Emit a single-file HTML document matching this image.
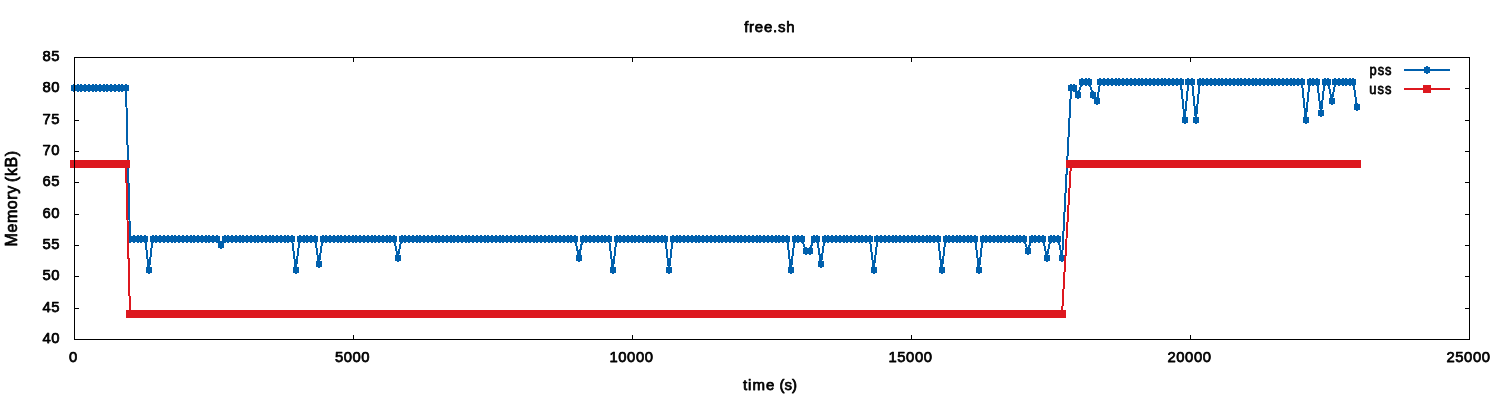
<!DOCTYPE html>
<html lang="en"><head><meta charset="utf-8"><title>free.sh</title>
<style>
html,body{margin:0;padding:0;background:#fff;}
body{width:1500px;height:400px;overflow:hidden;}
svg{display:block;}
text{font-family:"Liberation Sans",sans-serif;font-size:14.8px;fill:#000;letter-spacing:0.58px;stroke:#000;stroke-width:0.75px;stroke-linejoin:round;}
.ax{stroke:#000;stroke-width:1;fill:none;shape-rendering:crispEdges;}
.bl{stroke:#0060ad;stroke-width:2;fill:none;shape-rendering:crispEdges;stroke-linejoin:miter;}
.rl{stroke:#dd181f;stroke-width:2;fill:none;shape-rendering:crispEdges;stroke-linejoin:miter;}
.bm{fill:#0060ad;shape-rendering:crispEdges;}
.rm{fill:#dd181f;shape-rendering:crispEdges;}
</style></head><body>
<svg width="1500" height="400" viewBox="0 0 1500 400">
<rect x="0" y="0" width="1500" height="400" fill="#fff"/>
<text x="60" y="343.35" text-anchor="end">40</text>
<text x="60" y="312.35" text-anchor="end">45</text>
<text x="60" y="280.35" text-anchor="end">50</text>
<text x="60" y="249.35" text-anchor="end">55</text>
<text x="60" y="218.35" text-anchor="end">60</text>
<text x="60" y="186.35" text-anchor="end">65</text>
<text x="60" y="155.35" text-anchor="end">70</text>
<text x="60" y="124.35" text-anchor="end">75</text>
<text x="60" y="92.35" text-anchor="end">80</text>
<text x="60" y="61.35" text-anchor="end">85</text>
<text x="73.5" y="362.3" text-anchor="middle">0</text>
<text x="352.5" y="362.3" text-anchor="middle">5000</text>
<text x="631.5" y="362.3" text-anchor="middle">10000</text>
<text x="910.5" y="362.3" text-anchor="middle">15000</text>
<text x="1189.5" y="362.3" text-anchor="middle">20000</text>
<text x="1468.5" y="362.3" text-anchor="middle">25000</text>
<text x="769.7" y="32.25" text-anchor="middle" style="font-size:15px;letter-spacing:0.75px">free.sh</text>
<text x="769.9" y="390.3" text-anchor="middle" style="font-size:15px;letter-spacing:0"><tspan style="letter-spacing:1px">time</tspan> <tspan style="letter-spacing:0">(s)</tspan></text>
<text transform="translate(17.4 198.4) rotate(-90)" text-anchor="middle" style="font-size:16px;letter-spacing:0.55px;word-spacing:-1.6px">Memory (kB)</text>
<text transform="translate(1369.5 75) scale(0.87 1)" style="letter-spacing:1.15px">pss</text>
<text transform="translate(1369.3 94) scale(0.87 1)" style="letter-spacing:1.15px">uss</text>
<path fill="#000" shape-rendering="crispEdges" d="M74 339h5v1h-5zM1465 339h5v1h-5zM74 308h5v1h-5zM1465 308h5v1h-5zM74 276h5v1h-5zM1465 276h5v1h-5zM74 245h5v1h-5zM1465 245h5v1h-5zM74 214h5v1h-5zM1465 214h5v1h-5zM74 182h5v1h-5zM1465 182h5v1h-5zM74 151h5v1h-5zM1465 151h5v1h-5zM74 120h5v1h-5zM1465 120h5v1h-5zM74 88h5v1h-5zM1465 88h5v1h-5zM74 57h5v1h-5zM1465 57h5v1h-5zM74 335h1v5h-1zM74 57h1v5h-1zM353 335h1v5h-1zM353 57h1v5h-1zM632 335h1v5h-1zM632 57h1v5h-1zM911 335h1v5h-1zM911 57h1v5h-1zM1190 335h1v5h-1zM1190 57h1v5h-1zM1469 335h1v5h-1zM1469 57h1v5h-1z"/>
<polyline class="bl" points="74,88.33 77.71,88.33 81.43,88.33 85.14,88.33 88.86,88.33 92.57,88.33 96.29,88.33 100,88.33 103.71,88.33 107.43,88.33 111.14,88.33 114.86,88.33 118.57,88.33 122.29,88.33 126,88.33 130,238.73 133.78,238.73 137.56,238.73 141.34,238.73 145.12,238.73 148.9,270.07 152.68,238.73 156.47,238.73 160.25,238.73 164.04,238.73 167.82,238.73 171.61,238.73 175.39,238.73 179.17,238.73 182.96,238.73 186.74,238.73 190.53,238.73 194.31,238.73 198.09,238.73 201.88,238.73 205.66,238.73 209.45,238.73 213.23,238.73 217.02,238.73 220.8,245 224.55,238.73 228.3,238.73 232.05,238.73 235.8,238.73 239.55,238.73 243.3,238.73 247.05,238.73 250.8,238.73 254.55,238.73 258.3,238.73 262.05,238.73 265.8,238.73 269.55,238.73 273.3,238.73 277.05,238.73 280.8,238.73 284.55,238.73 288.3,238.73 292.05,238.73 295.8,270.07 299.65,238.73 303.5,238.73 307.35,238.73 311.2,238.73 315.05,238.73 318.9,263.8 322.66,238.73 326.41,238.73 330.17,238.73 333.93,238.73 337.69,238.73 341.44,238.73 345.2,238.73 348.96,238.73 352.71,238.73 356.47,238.73 360.23,238.73 363.99,238.73 367.74,238.73 371.5,238.73 375.26,238.73 379.01,238.73 382.77,238.73 386.53,238.73 390.29,238.73 394.04,238.73 397.8,257.53 401.57,238.73 405.35,238.73 409.12,238.73 412.89,238.73 416.66,238.73 420.44,238.73 424.21,238.73 427.98,238.73 431.76,238.73 435.53,238.73 439.3,238.73 443.07,238.73 446.85,238.73 450.62,238.73 454.39,238.73 458.17,238.73 461.94,238.73 465.71,238.73 469.49,238.73 473.26,238.73 477.03,238.73 480.8,238.73 484.58,238.73 488.35,238.73 492.12,238.73 495.9,238.73 499.67,238.73 503.44,238.73 507.21,238.73 510.99,238.73 514.76,238.73 518.53,238.73 522.31,238.73 526.08,238.73 529.85,238.73 533.62,238.73 537.4,238.73 541.17,238.73 544.94,238.73 548.72,238.73 552.49,238.73 556.26,238.73 560.04,238.73 563.81,238.73 567.58,238.73 571.35,238.73 575.13,238.73 578.9,257.53 582.67,238.73 586.43,238.73 590.2,238.73 593.97,238.73 597.73,238.73 601.5,238.73 605.27,238.73 609.03,238.73 612.8,270.07 616.55,238.73 620.29,238.73 624.04,238.73 627.79,238.73 631.53,238.73 635.28,238.73 639.03,238.73 642.77,238.73 646.52,238.73 650.27,238.73 654.01,238.73 657.76,238.73 661.51,238.73 665.25,238.73 669,270.07 672.81,238.73 676.62,238.73 680.43,238.73 684.24,238.73 688.05,238.73 691.86,238.73 695.67,238.73 699.48,238.73 703.28,238.73 707.09,238.73 710.9,238.73 714.71,238.73 718.52,238.73 722.33,238.73 726.14,238.73 729.95,238.73 733.76,238.73 737.57,238.73 741.38,238.73 745.19,238.73 749,238.73 752.81,238.73 756.62,238.73 760.42,238.73 764.23,238.73 768.04,238.73 771.85,238.73 775.66,238.73 779.47,238.73 783.28,238.73 787.09,238.73 790.9,270.07 794.6,238.73 798.3,238.73 802,238.73 805.7,251.27 809.8,251.27 813.5,238.73 817.2,238.73 820.9,263.8 824.67,238.73 828.44,238.73 832.21,238.73 835.99,238.73 839.76,238.73 843.53,238.73 847.3,238.73 851.07,238.73 854.84,238.73 858.61,238.73 862.39,238.73 866.16,238.73 869.93,238.73 873.7,270.07 877.48,238.73 881.27,238.73 885.05,238.73 888.83,238.73 892.62,238.73 896.4,238.73 900.18,238.73 903.97,238.73 907.75,238.73 911.53,238.73 915.32,238.73 919.1,238.73 922.88,238.73 926.67,238.73 930.45,238.73 934.23,238.73 938.02,238.73 941.8,270.07 945.51,238.73 949.22,238.73 952.93,238.73 956.64,238.73 960.35,238.73 964.06,238.73 967.77,238.73 971.48,238.73 975.19,238.73 978.9,270.07 982.66,238.73 986.42,238.73 990.18,238.73 993.95,238.73 997.71,238.73 1001.47,238.73 1005.23,238.73 1008.99,238.73 1012.75,238.73 1016.52,238.73 1020.28,238.73 1024.04,238.73 1027.8,251.27 1031.6,238.73 1035.4,238.73 1039.2,238.73 1043,238.73 1046.8,257.53 1050.62,238.73 1054.45,238.73 1058.27,238.73 1062.1,257.53 1071.1,88.33 1074,88.33 1078,94.6 1082,82.07 1085.7,82.07 1089,82.07 1093,94.6 1097,100.87 1100.2,82.07 1104.04,82.07 1107.87,82.07 1111.71,82.07 1115.55,82.07 1119.38,82.07 1123.22,82.07 1127.05,82.07 1130.89,82.07 1134.73,82.07 1138.56,82.07 1142.4,82.07 1146.24,82.07 1150.07,82.07 1153.91,82.07 1157.75,82.07 1161.58,82.07 1165.42,82.07 1169.25,82.07 1173.09,82.07 1176.93,82.07 1180.76,82.07 1184.6,119.67 1188.4,82.07 1192.1,82.07 1195.9,119.67 1199.69,82.07 1203.47,82.07 1207.26,82.07 1211.04,82.07 1214.83,82.07 1218.62,82.07 1222.4,82.07 1226.19,82.07 1229.98,82.07 1233.76,82.07 1237.55,82.07 1241.33,82.07 1245.12,82.07 1248.91,82.07 1252.69,82.07 1256.48,82.07 1260.27,82.07 1264.05,82.07 1267.84,82.07 1271.62,82.07 1275.41,82.07 1279.2,82.07 1282.98,82.07 1286.77,82.07 1290.56,82.07 1294.34,82.07 1298.13,82.07 1301.91,82.07 1305.7,119.67 1309.53,82.07 1313.35,82.07 1317.17,82.07 1321,113.4 1324.6,82.07 1328.2,82.07 1331.8,100.87 1335.38,82.07 1338.97,82.07 1342.55,82.07 1346.13,82.07 1349.72,82.07 1353.3,82.07 1357,107.13"/>
<path class="bm" d="M73 84h2v1h2v6h-2v1h-2v-1h-2v-6h2zM77 84h2v1h2v6h-2v1h-2v-1h-2v-6h2zM80 84h2v1h2v6h-2v1h-2v-1h-2v-6h2zM84 84h2v1h2v6h-2v1h-2v-1h-2v-6h2zM88 84h2v1h2v6h-2v1h-2v-1h-2v-6h2zM92 84h2v1h2v6h-2v1h-2v-1h-2v-6h2zM95 84h2v1h2v6h-2v1h-2v-1h-2v-6h2zM99 84h2v1h2v6h-2v1h-2v-1h-2v-6h2zM103 84h2v1h2v6h-2v1h-2v-1h-2v-6h2zM106 84h2v1h2v6h-2v1h-2v-1h-2v-6h2zM110 84h2v1h2v6h-2v1h-2v-1h-2v-6h2zM114 84h2v1h2v6h-2v1h-2v-1h-2v-6h2zM118 84h2v1h2v6h-2v1h-2v-1h-2v-6h2zM121 84h2v1h2v6h-2v1h-2v-1h-2v-6h2zM125 84h2v1h2v6h-2v1h-2v-1h-2v-6h2zM129 235h2v1h2v6h-2v1h-2v-1h-2v-6h2zM133 235h2v1h2v6h-2v1h-2v-1h-2v-6h2zM137 235h2v1h2v6h-2v1h-2v-1h-2v-6h2zM140 235h2v1h2v6h-2v1h-2v-1h-2v-6h2zM144 235h2v1h2v6h-2v1h-2v-1h-2v-6h2zM148 266h2v1h2v6h-2v1h-2v-1h-2v-6h2zM152 235h2v1h2v6h-2v1h-2v-1h-2v-6h2zM155 235h2v1h2v6h-2v1h-2v-1h-2v-6h2zM159 235h2v1h2v6h-2v1h-2v-1h-2v-6h2zM163 235h2v1h2v6h-2v1h-2v-1h-2v-6h2zM167 235h2v1h2v6h-2v1h-2v-1h-2v-6h2zM171 235h2v1h2v6h-2v1h-2v-1h-2v-6h2zM174 235h2v1h2v6h-2v1h-2v-1h-2v-6h2zM178 235h2v1h2v6h-2v1h-2v-1h-2v-6h2zM182 235h2v1h2v6h-2v1h-2v-1h-2v-6h2zM186 235h2v1h2v6h-2v1h-2v-1h-2v-6h2zM190 235h2v1h2v6h-2v1h-2v-1h-2v-6h2zM193 235h2v1h2v6h-2v1h-2v-1h-2v-6h2zM197 235h2v1h2v6h-2v1h-2v-1h-2v-6h2zM201 235h2v1h2v6h-2v1h-2v-1h-2v-6h2zM205 235h2v1h2v6h-2v1h-2v-1h-2v-6h2zM208 235h2v1h2v6h-2v1h-2v-1h-2v-6h2zM212 235h2v1h2v6h-2v1h-2v-1h-2v-6h2zM216 235h2v1h2v6h-2v1h-2v-1h-2v-6h2zM220 241h2v1h2v6h-2v1h-2v-1h-2v-6h2zM224 235h2v1h2v6h-2v1h-2v-1h-2v-6h2zM227 235h2v1h2v6h-2v1h-2v-1h-2v-6h2zM231 235h2v1h2v6h-2v1h-2v-1h-2v-6h2zM235 235h2v1h2v6h-2v1h-2v-1h-2v-6h2zM239 235h2v1h2v6h-2v1h-2v-1h-2v-6h2zM242 235h2v1h2v6h-2v1h-2v-1h-2v-6h2zM246 235h2v1h2v6h-2v1h-2v-1h-2v-6h2zM250 235h2v1h2v6h-2v1h-2v-1h-2v-6h2zM254 235h2v1h2v6h-2v1h-2v-1h-2v-6h2zM257 235h2v1h2v6h-2v1h-2v-1h-2v-6h2zM261 235h2v1h2v6h-2v1h-2v-1h-2v-6h2zM265 235h2v1h2v6h-2v1h-2v-1h-2v-6h2zM269 235h2v1h2v6h-2v1h-2v-1h-2v-6h2zM272 235h2v1h2v6h-2v1h-2v-1h-2v-6h2zM276 235h2v1h2v6h-2v1h-2v-1h-2v-6h2zM280 235h2v1h2v6h-2v1h-2v-1h-2v-6h2zM284 235h2v1h2v6h-2v1h-2v-1h-2v-6h2zM287 235h2v1h2v6h-2v1h-2v-1h-2v-6h2zM291 235h2v1h2v6h-2v1h-2v-1h-2v-6h2zM295 266h2v1h2v6h-2v1h-2v-1h-2v-6h2zM299 235h2v1h2v6h-2v1h-2v-1h-2v-6h2zM303 235h2v1h2v6h-2v1h-2v-1h-2v-6h2zM306 235h2v1h2v6h-2v1h-2v-1h-2v-6h2zM310 235h2v1h2v6h-2v1h-2v-1h-2v-6h2zM314 235h2v1h2v6h-2v1h-2v-1h-2v-6h2zM318 260h2v1h2v6h-2v1h-2v-1h-2v-6h2zM322 235h2v1h2v6h-2v1h-2v-1h-2v-6h2zM325 235h2v1h2v6h-2v1h-2v-1h-2v-6h2zM329 235h2v1h2v6h-2v1h-2v-1h-2v-6h2zM333 235h2v1h2v6h-2v1h-2v-1h-2v-6h2zM337 235h2v1h2v6h-2v1h-2v-1h-2v-6h2zM340 235h2v1h2v6h-2v1h-2v-1h-2v-6h2zM344 235h2v1h2v6h-2v1h-2v-1h-2v-6h2zM348 235h2v1h2v6h-2v1h-2v-1h-2v-6h2zM352 235h2v1h2v6h-2v1h-2v-1h-2v-6h2zM355 235h2v1h2v6h-2v1h-2v-1h-2v-6h2zM359 235h2v1h2v6h-2v1h-2v-1h-2v-6h2zM363 235h2v1h2v6h-2v1h-2v-1h-2v-6h2zM367 235h2v1h2v6h-2v1h-2v-1h-2v-6h2zM371 235h2v1h2v6h-2v1h-2v-1h-2v-6h2zM374 235h2v1h2v6h-2v1h-2v-1h-2v-6h2zM378 235h2v1h2v6h-2v1h-2v-1h-2v-6h2zM382 235h2v1h2v6h-2v1h-2v-1h-2v-6h2zM386 235h2v1h2v6h-2v1h-2v-1h-2v-6h2zM389 235h2v1h2v6h-2v1h-2v-1h-2v-6h2zM393 235h2v1h2v6h-2v1h-2v-1h-2v-6h2zM397 254h2v1h2v6h-2v1h-2v-1h-2v-6h2zM401 235h2v1h2v6h-2v1h-2v-1h-2v-6h2zM404 235h2v1h2v6h-2v1h-2v-1h-2v-6h2zM408 235h2v1h2v6h-2v1h-2v-1h-2v-6h2zM412 235h2v1h2v6h-2v1h-2v-1h-2v-6h2zM416 235h2v1h2v6h-2v1h-2v-1h-2v-6h2zM419 235h2v1h2v6h-2v1h-2v-1h-2v-6h2zM423 235h2v1h2v6h-2v1h-2v-1h-2v-6h2zM427 235h2v1h2v6h-2v1h-2v-1h-2v-6h2zM431 235h2v1h2v6h-2v1h-2v-1h-2v-6h2zM435 235h2v1h2v6h-2v1h-2v-1h-2v-6h2zM438 235h2v1h2v6h-2v1h-2v-1h-2v-6h2zM442 235h2v1h2v6h-2v1h-2v-1h-2v-6h2zM446 235h2v1h2v6h-2v1h-2v-1h-2v-6h2zM450 235h2v1h2v6h-2v1h-2v-1h-2v-6h2zM453 235h2v1h2v6h-2v1h-2v-1h-2v-6h2zM457 235h2v1h2v6h-2v1h-2v-1h-2v-6h2zM461 235h2v1h2v6h-2v1h-2v-1h-2v-6h2zM465 235h2v1h2v6h-2v1h-2v-1h-2v-6h2zM468 235h2v1h2v6h-2v1h-2v-1h-2v-6h2zM472 235h2v1h2v6h-2v1h-2v-1h-2v-6h2zM476 235h2v1h2v6h-2v1h-2v-1h-2v-6h2zM480 235h2v1h2v6h-2v1h-2v-1h-2v-6h2zM484 235h2v1h2v6h-2v1h-2v-1h-2v-6h2zM487 235h2v1h2v6h-2v1h-2v-1h-2v-6h2zM491 235h2v1h2v6h-2v1h-2v-1h-2v-6h2zM495 235h2v1h2v6h-2v1h-2v-1h-2v-6h2zM499 235h2v1h2v6h-2v1h-2v-1h-2v-6h2zM502 235h2v1h2v6h-2v1h-2v-1h-2v-6h2zM506 235h2v1h2v6h-2v1h-2v-1h-2v-6h2zM510 235h2v1h2v6h-2v1h-2v-1h-2v-6h2zM514 235h2v1h2v6h-2v1h-2v-1h-2v-6h2zM518 235h2v1h2v6h-2v1h-2v-1h-2v-6h2zM521 235h2v1h2v6h-2v1h-2v-1h-2v-6h2zM525 235h2v1h2v6h-2v1h-2v-1h-2v-6h2zM529 235h2v1h2v6h-2v1h-2v-1h-2v-6h2zM533 235h2v1h2v6h-2v1h-2v-1h-2v-6h2zM536 235h2v1h2v6h-2v1h-2v-1h-2v-6h2zM540 235h2v1h2v6h-2v1h-2v-1h-2v-6h2zM544 235h2v1h2v6h-2v1h-2v-1h-2v-6h2zM548 235h2v1h2v6h-2v1h-2v-1h-2v-6h2zM551 235h2v1h2v6h-2v1h-2v-1h-2v-6h2zM555 235h2v1h2v6h-2v1h-2v-1h-2v-6h2zM559 235h2v1h2v6h-2v1h-2v-1h-2v-6h2zM563 235h2v1h2v6h-2v1h-2v-1h-2v-6h2zM567 235h2v1h2v6h-2v1h-2v-1h-2v-6h2zM570 235h2v1h2v6h-2v1h-2v-1h-2v-6h2zM574 235h2v1h2v6h-2v1h-2v-1h-2v-6h2zM578 254h2v1h2v6h-2v1h-2v-1h-2v-6h2zM582 235h2v1h2v6h-2v1h-2v-1h-2v-6h2zM585 235h2v1h2v6h-2v1h-2v-1h-2v-6h2zM589 235h2v1h2v6h-2v1h-2v-1h-2v-6h2zM593 235h2v1h2v6h-2v1h-2v-1h-2v-6h2zM597 235h2v1h2v6h-2v1h-2v-1h-2v-6h2zM601 235h2v1h2v6h-2v1h-2v-1h-2v-6h2zM604 235h2v1h2v6h-2v1h-2v-1h-2v-6h2zM608 235h2v1h2v6h-2v1h-2v-1h-2v-6h2zM612 266h2v1h2v6h-2v1h-2v-1h-2v-6h2zM616 235h2v1h2v6h-2v1h-2v-1h-2v-6h2zM619 235h2v1h2v6h-2v1h-2v-1h-2v-6h2zM623 235h2v1h2v6h-2v1h-2v-1h-2v-6h2zM627 235h2v1h2v6h-2v1h-2v-1h-2v-6h2zM631 235h2v1h2v6h-2v1h-2v-1h-2v-6h2zM634 235h2v1h2v6h-2v1h-2v-1h-2v-6h2zM638 235h2v1h2v6h-2v1h-2v-1h-2v-6h2zM642 235h2v1h2v6h-2v1h-2v-1h-2v-6h2zM646 235h2v1h2v6h-2v1h-2v-1h-2v-6h2zM649 235h2v1h2v6h-2v1h-2v-1h-2v-6h2zM653 235h2v1h2v6h-2v1h-2v-1h-2v-6h2zM657 235h2v1h2v6h-2v1h-2v-1h-2v-6h2zM661 235h2v1h2v6h-2v1h-2v-1h-2v-6h2zM664 235h2v1h2v6h-2v1h-2v-1h-2v-6h2zM668 266h2v1h2v6h-2v1h-2v-1h-2v-6h2zM672 235h2v1h2v6h-2v1h-2v-1h-2v-6h2zM676 235h2v1h2v6h-2v1h-2v-1h-2v-6h2zM679 235h2v1h2v6h-2v1h-2v-1h-2v-6h2zM683 235h2v1h2v6h-2v1h-2v-1h-2v-6h2zM687 235h2v1h2v6h-2v1h-2v-1h-2v-6h2zM691 235h2v1h2v6h-2v1h-2v-1h-2v-6h2zM695 235h2v1h2v6h-2v1h-2v-1h-2v-6h2zM698 235h2v1h2v6h-2v1h-2v-1h-2v-6h2zM702 235h2v1h2v6h-2v1h-2v-1h-2v-6h2zM706 235h2v1h2v6h-2v1h-2v-1h-2v-6h2zM710 235h2v1h2v6h-2v1h-2v-1h-2v-6h2zM714 235h2v1h2v6h-2v1h-2v-1h-2v-6h2zM718 235h2v1h2v6h-2v1h-2v-1h-2v-6h2zM721 235h2v1h2v6h-2v1h-2v-1h-2v-6h2zM725 235h2v1h2v6h-2v1h-2v-1h-2v-6h2zM729 235h2v1h2v6h-2v1h-2v-1h-2v-6h2zM733 235h2v1h2v6h-2v1h-2v-1h-2v-6h2zM737 235h2v1h2v6h-2v1h-2v-1h-2v-6h2zM740 235h2v1h2v6h-2v1h-2v-1h-2v-6h2zM744 235h2v1h2v6h-2v1h-2v-1h-2v-6h2zM748 235h2v1h2v6h-2v1h-2v-1h-2v-6h2zM752 235h2v1h2v6h-2v1h-2v-1h-2v-6h2zM756 235h2v1h2v6h-2v1h-2v-1h-2v-6h2zM759 235h2v1h2v6h-2v1h-2v-1h-2v-6h2zM763 235h2v1h2v6h-2v1h-2v-1h-2v-6h2zM767 235h2v1h2v6h-2v1h-2v-1h-2v-6h2zM771 235h2v1h2v6h-2v1h-2v-1h-2v-6h2zM775 235h2v1h2v6h-2v1h-2v-1h-2v-6h2zM778 235h2v1h2v6h-2v1h-2v-1h-2v-6h2zM782 235h2v1h2v6h-2v1h-2v-1h-2v-6h2zM786 235h2v1h2v6h-2v1h-2v-1h-2v-6h2zM790 266h2v1h2v6h-2v1h-2v-1h-2v-6h2zM794 235h2v1h2v6h-2v1h-2v-1h-2v-6h2zM797 235h2v1h2v6h-2v1h-2v-1h-2v-6h2zM801 235h2v1h2v6h-2v1h-2v-1h-2v-6h2zM805 247h2v1h2v6h-2v1h-2v-1h-2v-6h2zM809 247h2v1h2v6h-2v1h-2v-1h-2v-6h2zM813 235h2v1h2v6h-2v1h-2v-1h-2v-6h2zM816 235h2v1h2v6h-2v1h-2v-1h-2v-6h2zM820 260h2v1h2v6h-2v1h-2v-1h-2v-6h2zM824 235h2v1h2v6h-2v1h-2v-1h-2v-6h2zM827 235h2v1h2v6h-2v1h-2v-1h-2v-6h2zM831 235h2v1h2v6h-2v1h-2v-1h-2v-6h2zM835 235h2v1h2v6h-2v1h-2v-1h-2v-6h2zM839 235h2v1h2v6h-2v1h-2v-1h-2v-6h2zM843 235h2v1h2v6h-2v1h-2v-1h-2v-6h2zM846 235h2v1h2v6h-2v1h-2v-1h-2v-6h2zM850 235h2v1h2v6h-2v1h-2v-1h-2v-6h2zM854 235h2v1h2v6h-2v1h-2v-1h-2v-6h2zM858 235h2v1h2v6h-2v1h-2v-1h-2v-6h2zM861 235h2v1h2v6h-2v1h-2v-1h-2v-6h2zM865 235h2v1h2v6h-2v1h-2v-1h-2v-6h2zM869 235h2v1h2v6h-2v1h-2v-1h-2v-6h2zM873 266h2v1h2v6h-2v1h-2v-1h-2v-6h2zM876 235h2v1h2v6h-2v1h-2v-1h-2v-6h2zM880 235h2v1h2v6h-2v1h-2v-1h-2v-6h2zM884 235h2v1h2v6h-2v1h-2v-1h-2v-6h2zM888 235h2v1h2v6h-2v1h-2v-1h-2v-6h2zM892 235h2v1h2v6h-2v1h-2v-1h-2v-6h2zM895 235h2v1h2v6h-2v1h-2v-1h-2v-6h2zM899 235h2v1h2v6h-2v1h-2v-1h-2v-6h2zM903 235h2v1h2v6h-2v1h-2v-1h-2v-6h2zM907 235h2v1h2v6h-2v1h-2v-1h-2v-6h2zM911 235h2v1h2v6h-2v1h-2v-1h-2v-6h2zM914 235h2v1h2v6h-2v1h-2v-1h-2v-6h2zM918 235h2v1h2v6h-2v1h-2v-1h-2v-6h2zM922 235h2v1h2v6h-2v1h-2v-1h-2v-6h2zM926 235h2v1h2v6h-2v1h-2v-1h-2v-6h2zM929 235h2v1h2v6h-2v1h-2v-1h-2v-6h2zM933 235h2v1h2v6h-2v1h-2v-1h-2v-6h2zM937 235h2v1h2v6h-2v1h-2v-1h-2v-6h2zM941 266h2v1h2v6h-2v1h-2v-1h-2v-6h2zM945 235h2v1h2v6h-2v1h-2v-1h-2v-6h2zM948 235h2v1h2v6h-2v1h-2v-1h-2v-6h2zM952 235h2v1h2v6h-2v1h-2v-1h-2v-6h2zM956 235h2v1h2v6h-2v1h-2v-1h-2v-6h2zM959 235h2v1h2v6h-2v1h-2v-1h-2v-6h2zM963 235h2v1h2v6h-2v1h-2v-1h-2v-6h2zM967 235h2v1h2v6h-2v1h-2v-1h-2v-6h2zM970 235h2v1h2v6h-2v1h-2v-1h-2v-6h2zM974 235h2v1h2v6h-2v1h-2v-1h-2v-6h2zM978 266h2v1h2v6h-2v1h-2v-1h-2v-6h2zM982 235h2v1h2v6h-2v1h-2v-1h-2v-6h2zM985 235h2v1h2v6h-2v1h-2v-1h-2v-6h2zM989 235h2v1h2v6h-2v1h-2v-1h-2v-6h2zM993 235h2v1h2v6h-2v1h-2v-1h-2v-6h2zM997 235h2v1h2v6h-2v1h-2v-1h-2v-6h2zM1000 235h2v1h2v6h-2v1h-2v-1h-2v-6h2zM1004 235h2v1h2v6h-2v1h-2v-1h-2v-6h2zM1008 235h2v1h2v6h-2v1h-2v-1h-2v-6h2zM1012 235h2v1h2v6h-2v1h-2v-1h-2v-6h2zM1016 235h2v1h2v6h-2v1h-2v-1h-2v-6h2zM1019 235h2v1h2v6h-2v1h-2v-1h-2v-6h2zM1023 235h2v1h2v6h-2v1h-2v-1h-2v-6h2zM1027 247h2v1h2v6h-2v1h-2v-1h-2v-6h2zM1031 235h2v1h2v6h-2v1h-2v-1h-2v-6h2zM1034 235h2v1h2v6h-2v1h-2v-1h-2v-6h2zM1038 235h2v1h2v6h-2v1h-2v-1h-2v-6h2zM1042 235h2v1h2v6h-2v1h-2v-1h-2v-6h2zM1046 254h2v1h2v6h-2v1h-2v-1h-2v-6h2zM1050 235h2v1h2v6h-2v1h-2v-1h-2v-6h2zM1053 235h2v1h2v6h-2v1h-2v-1h-2v-6h2zM1057 235h2v1h2v6h-2v1h-2v-1h-2v-6h2zM1061 254h2v1h2v6h-2v1h-2v-1h-2v-6h2zM1070 84h2v1h2v6h-2v1h-2v-1h-2v-6h2zM1073 84h2v1h2v6h-2v1h-2v-1h-2v-6h2zM1077 91h2v1h2v6h-2v1h-2v-1h-2v-6h2zM1081 78h2v1h2v6h-2v1h-2v-1h-2v-6h2zM1085 78h2v1h2v6h-2v1h-2v-1h-2v-6h2zM1088 78h2v1h2v6h-2v1h-2v-1h-2v-6h2zM1092 91h2v1h2v6h-2v1h-2v-1h-2v-6h2zM1096 97h2v1h2v6h-2v1h-2v-1h-2v-6h2zM1099 78h2v1h2v6h-2v1h-2v-1h-2v-6h2zM1103 78h2v1h2v6h-2v1h-2v-1h-2v-6h2zM1107 78h2v1h2v6h-2v1h-2v-1h-2v-6h2zM1111 78h2v1h2v6h-2v1h-2v-1h-2v-6h2zM1115 78h2v1h2v6h-2v1h-2v-1h-2v-6h2zM1118 78h2v1h2v6h-2v1h-2v-1h-2v-6h2zM1122 78h2v1h2v6h-2v1h-2v-1h-2v-6h2zM1126 78h2v1h2v6h-2v1h-2v-1h-2v-6h2zM1130 78h2v1h2v6h-2v1h-2v-1h-2v-6h2zM1134 78h2v1h2v6h-2v1h-2v-1h-2v-6h2zM1138 78h2v1h2v6h-2v1h-2v-1h-2v-6h2zM1141 78h2v1h2v6h-2v1h-2v-1h-2v-6h2zM1145 78h2v1h2v6h-2v1h-2v-1h-2v-6h2zM1149 78h2v1h2v6h-2v1h-2v-1h-2v-6h2zM1153 78h2v1h2v6h-2v1h-2v-1h-2v-6h2zM1157 78h2v1h2v6h-2v1h-2v-1h-2v-6h2zM1161 78h2v1h2v6h-2v1h-2v-1h-2v-6h2zM1164 78h2v1h2v6h-2v1h-2v-1h-2v-6h2zM1168 78h2v1h2v6h-2v1h-2v-1h-2v-6h2zM1172 78h2v1h2v6h-2v1h-2v-1h-2v-6h2zM1176 78h2v1h2v6h-2v1h-2v-1h-2v-6h2zM1180 78h2v1h2v6h-2v1h-2v-1h-2v-6h2zM1184 116h2v1h2v6h-2v1h-2v-1h-2v-6h2zM1187 78h2v1h2v6h-2v1h-2v-1h-2v-6h2zM1191 78h2v1h2v6h-2v1h-2v-1h-2v-6h2zM1195 116h2v1h2v6h-2v1h-2v-1h-2v-6h2zM1199 78h2v1h2v6h-2v1h-2v-1h-2v-6h2zM1202 78h2v1h2v6h-2v1h-2v-1h-2v-6h2zM1206 78h2v1h2v6h-2v1h-2v-1h-2v-6h2zM1210 78h2v1h2v6h-2v1h-2v-1h-2v-6h2zM1214 78h2v1h2v6h-2v1h-2v-1h-2v-6h2zM1218 78h2v1h2v6h-2v1h-2v-1h-2v-6h2zM1221 78h2v1h2v6h-2v1h-2v-1h-2v-6h2zM1225 78h2v1h2v6h-2v1h-2v-1h-2v-6h2zM1229 78h2v1h2v6h-2v1h-2v-1h-2v-6h2zM1233 78h2v1h2v6h-2v1h-2v-1h-2v-6h2zM1237 78h2v1h2v6h-2v1h-2v-1h-2v-6h2zM1240 78h2v1h2v6h-2v1h-2v-1h-2v-6h2zM1244 78h2v1h2v6h-2v1h-2v-1h-2v-6h2zM1248 78h2v1h2v6h-2v1h-2v-1h-2v-6h2zM1252 78h2v1h2v6h-2v1h-2v-1h-2v-6h2zM1255 78h2v1h2v6h-2v1h-2v-1h-2v-6h2zM1259 78h2v1h2v6h-2v1h-2v-1h-2v-6h2zM1263 78h2v1h2v6h-2v1h-2v-1h-2v-6h2zM1267 78h2v1h2v6h-2v1h-2v-1h-2v-6h2zM1271 78h2v1h2v6h-2v1h-2v-1h-2v-6h2zM1274 78h2v1h2v6h-2v1h-2v-1h-2v-6h2zM1278 78h2v1h2v6h-2v1h-2v-1h-2v-6h2zM1282 78h2v1h2v6h-2v1h-2v-1h-2v-6h2zM1286 78h2v1h2v6h-2v1h-2v-1h-2v-6h2zM1290 78h2v1h2v6h-2v1h-2v-1h-2v-6h2zM1293 78h2v1h2v6h-2v1h-2v-1h-2v-6h2zM1297 78h2v1h2v6h-2v1h-2v-1h-2v-6h2zM1301 78h2v1h2v6h-2v1h-2v-1h-2v-6h2zM1305 116h2v1h2v6h-2v1h-2v-1h-2v-6h2zM1309 78h2v1h2v6h-2v1h-2v-1h-2v-6h2zM1312 78h2v1h2v6h-2v1h-2v-1h-2v-6h2zM1316 78h2v1h2v6h-2v1h-2v-1h-2v-6h2zM1320 109h2v1h2v6h-2v1h-2v-1h-2v-6h2zM1324 78h2v1h2v6h-2v1h-2v-1h-2v-6h2zM1327 78h2v1h2v6h-2v1h-2v-1h-2v-6h2zM1331 97h2v1h2v6h-2v1h-2v-1h-2v-6h2zM1334 78h2v1h2v6h-2v1h-2v-1h-2v-6h2zM1338 78h2v1h2v6h-2v1h-2v-1h-2v-6h2zM1342 78h2v1h2v6h-2v1h-2v-1h-2v-6h2zM1345 78h2v1h2v6h-2v1h-2v-1h-2v-6h2zM1349 78h2v1h2v6h-2v1h-2v-1h-2v-6h2zM1352 78h2v1h2v6h-2v1h-2v-1h-2v-6h2zM1356 103h2v1h2v6h-2v1h-2v-1h-2v-6h2z"/>
<polyline class="rl" points="74,163.53 77.71,163.53 81.43,163.53 85.14,163.53 88.86,163.53 92.57,163.53 96.29,163.53 100,163.53 103.71,163.53 107.43,163.53 111.14,163.53 114.86,163.53 118.57,163.53 122.29,163.53 126,163.53 130,313.93 133.76,313.93 137.51,313.93 141.27,313.93 145.02,313.93 148.78,313.93 152.54,313.93 156.29,313.93 160.05,313.93 163.8,313.93 167.56,313.93 171.32,313.93 175.07,313.93 178.83,313.93 182.58,313.93 186.34,313.93 190.1,313.93 193.85,313.93 197.61,313.93 201.36,313.93 205.12,313.93 208.88,313.93 212.63,313.93 216.39,313.93 220.15,313.93 223.9,313.93 227.66,313.93 231.41,313.93 235.17,313.93 238.93,313.93 242.68,313.93 246.44,313.93 250.19,313.93 253.95,313.93 257.71,313.93 261.46,313.93 265.22,313.93 268.97,313.93 272.73,313.93 276.49,313.93 280.24,313.93 284,313.93 287.75,313.93 291.51,313.93 295.27,313.93 299.02,313.93 302.78,313.93 306.53,313.93 310.29,313.93 314.05,313.93 317.8,313.93 321.56,313.93 325.31,313.93 329.07,313.93 332.83,313.93 336.58,313.93 340.34,313.93 344.09,313.93 347.85,313.93 351.61,313.93 355.36,313.93 359.12,313.93 362.88,313.93 366.63,313.93 370.39,313.93 374.14,313.93 377.9,313.93 381.66,313.93 385.41,313.93 389.17,313.93 392.92,313.93 396.68,313.93 400.44,313.93 404.19,313.93 407.95,313.93 411.7,313.93 415.46,313.93 419.22,313.93 422.97,313.93 426.73,313.93 430.48,313.93 434.24,313.93 438,313.93 441.75,313.93 445.51,313.93 449.26,313.93 453.02,313.93 456.78,313.93 460.53,313.93 464.29,313.93 468.04,313.93 471.8,313.93 475.56,313.93 479.31,313.93 483.07,313.93 486.82,313.93 490.58,313.93 494.34,313.93 498.09,313.93 501.85,313.93 505.6,313.93 509.36,313.93 513.12,313.93 516.87,313.93 520.63,313.93 524.39,313.93 528.14,313.93 531.9,313.93 535.65,313.93 539.41,313.93 543.17,313.93 546.92,313.93 550.68,313.93 554.43,313.93 558.19,313.93 561.95,313.93 565.7,313.93 569.46,313.93 573.21,313.93 576.97,313.93 580.73,313.93 584.48,313.93 588.24,313.93 591.99,313.93 595.75,313.93 599.51,313.93 603.26,313.93 607.02,313.93 610.77,313.93 614.53,313.93 618.29,313.93 622.04,313.93 625.8,313.93 629.55,313.93 633.31,313.93 637.07,313.93 640.82,313.93 644.58,313.93 648.33,313.93 652.09,313.93 655.85,313.93 659.6,313.93 663.36,313.93 667.11,313.93 670.87,313.93 674.63,313.93 678.38,313.93 682.14,313.93 685.9,313.93 689.65,313.93 693.41,313.93 697.16,313.93 700.92,313.93 704.68,313.93 708.43,313.93 712.19,313.93 715.94,313.93 719.7,313.93 723.46,313.93 727.21,313.93 730.97,313.93 734.72,313.93 738.48,313.93 742.24,313.93 745.99,313.93 749.75,313.93 753.5,313.93 757.26,313.93 761.02,313.93 764.77,313.93 768.53,313.93 772.28,313.93 776.04,313.93 779.8,313.93 783.55,313.93 787.31,313.93 791.06,313.93 794.82,313.93 798.58,313.93 802.33,313.93 806.09,313.93 809.84,313.93 813.6,313.93 817.36,313.93 821.11,313.93 824.87,313.93 828.62,313.93 832.38,313.93 836.14,313.93 839.89,313.93 843.65,313.93 847.41,313.93 851.16,313.93 854.92,313.93 858.67,313.93 862.43,313.93 866.19,313.93 869.94,313.93 873.7,313.93 877.45,313.93 881.21,313.93 884.97,313.93 888.72,313.93 892.48,313.93 896.23,313.93 899.99,313.93 903.75,313.93 907.5,313.93 911.26,313.93 915.01,313.93 918.77,313.93 922.53,313.93 926.28,313.93 930.04,313.93 933.79,313.93 937.55,313.93 941.31,313.93 945.06,313.93 948.82,313.93 952.57,313.93 956.33,313.93 960.09,313.93 963.84,313.93 967.6,313.93 971.35,313.93 975.11,313.93 978.87,313.93 982.62,313.93 986.38,313.93 990.14,313.93 993.89,313.93 997.65,313.93 1001.4,313.93 1005.16,313.93 1008.92,313.93 1012.67,313.93 1016.43,313.93 1020.18,313.93 1023.94,313.93 1027.7,313.93 1031.45,313.93 1035.21,313.93 1038.96,313.93 1042.72,313.93 1046.48,313.93 1050.23,313.93 1053.99,313.93 1057.74,313.93 1062.05,313.93 1070.95,163.53 1074.17,163.53 1077.94,163.53 1081.71,163.53 1085.48,163.53 1089.26,163.53 1093.03,163.53 1096.8,163.53 1100.57,163.53 1104.34,163.53 1108.11,163.53 1111.88,163.53 1115.65,163.53 1119.42,163.53 1123.19,163.53 1126.97,163.53 1130.74,163.53 1134.51,163.53 1138.28,163.53 1142.05,163.53 1145.82,163.53 1149.59,163.53 1153.36,163.53 1157.13,163.53 1160.91,163.53 1164.68,163.53 1168.45,163.53 1172.22,163.53 1175.99,163.53 1179.76,163.53 1183.53,163.53 1187.3,163.53 1191.07,163.53 1194.84,163.53 1198.62,163.53 1202.39,163.53 1206.16,163.53 1209.93,163.53 1213.7,163.53 1217.47,163.53 1221.24,163.53 1225.01,163.53 1228.78,163.53 1232.56,163.53 1236.33,163.53 1240.1,163.53 1243.87,163.53 1247.64,163.53 1251.41,163.53 1255.18,163.53 1258.95,163.53 1262.72,163.53 1266.49,163.53 1270.27,163.53 1274.04,163.53 1277.81,163.53 1281.58,163.53 1285.35,163.53 1289.12,163.53 1292.89,163.53 1296.66,163.53 1300.43,163.53 1304.21,163.53 1307.98,163.53 1311.75,163.53 1315.52,163.53 1319.29,163.53 1323.06,163.53 1326.83,163.53 1330.6,163.53 1334.37,163.53 1338.14,163.53 1341.92,163.53 1345.69,163.53 1349.46,163.53 1353.23,163.53 1357,163.53"/>
<path class="rm" d="M70 160h8v8h-8zM74 160h8v8h-8zM77 160h8v8h-8zM81 160h8v8h-8zM85 160h8v8h-8zM89 160h8v8h-8zM92 160h8v8h-8zM96 160h8v8h-8zM100 160h8v8h-8zM103 160h8v8h-8zM107 160h8v8h-8zM111 160h8v8h-8zM115 160h8v8h-8zM118 160h8v8h-8zM122 160h8v8h-8zM126 310h8v8h-8zM130 310h8v8h-8zM134 310h8v8h-8zM137 310h8v8h-8zM141 310h8v8h-8zM145 310h8v8h-8zM149 310h8v8h-8zM152 310h8v8h-8zM156 310h8v8h-8zM160 310h8v8h-8zM164 310h8v8h-8zM167 310h8v8h-8zM171 310h8v8h-8zM175 310h8v8h-8zM179 310h8v8h-8zM182 310h8v8h-8zM186 310h8v8h-8zM190 310h8v8h-8zM194 310h8v8h-8zM197 310h8v8h-8zM201 310h8v8h-8zM205 310h8v8h-8zM209 310h8v8h-8zM212 310h8v8h-8zM216 310h8v8h-8zM220 310h8v8h-8zM224 310h8v8h-8zM227 310h8v8h-8zM231 310h8v8h-8zM235 310h8v8h-8zM239 310h8v8h-8zM242 310h8v8h-8zM246 310h8v8h-8zM250 310h8v8h-8zM254 310h8v8h-8zM257 310h8v8h-8zM261 310h8v8h-8zM265 310h8v8h-8zM269 310h8v8h-8zM272 310h8v8h-8zM276 310h8v8h-8zM280 310h8v8h-8zM284 310h8v8h-8zM288 310h8v8h-8zM291 310h8v8h-8zM295 310h8v8h-8zM299 310h8v8h-8zM303 310h8v8h-8zM306 310h8v8h-8zM310 310h8v8h-8zM314 310h8v8h-8zM318 310h8v8h-8zM321 310h8v8h-8zM325 310h8v8h-8zM329 310h8v8h-8zM333 310h8v8h-8zM336 310h8v8h-8zM340 310h8v8h-8zM344 310h8v8h-8zM348 310h8v8h-8zM351 310h8v8h-8zM355 310h8v8h-8zM359 310h8v8h-8zM363 310h8v8h-8zM366 310h8v8h-8zM370 310h8v8h-8zM374 310h8v8h-8zM378 310h8v8h-8zM381 310h8v8h-8zM385 310h8v8h-8zM389 310h8v8h-8zM393 310h8v8h-8zM396 310h8v8h-8zM400 310h8v8h-8zM404 310h8v8h-8zM408 310h8v8h-8zM411 310h8v8h-8zM415 310h8v8h-8zM419 310h8v8h-8zM423 310h8v8h-8zM426 310h8v8h-8zM430 310h8v8h-8zM434 310h8v8h-8zM438 310h8v8h-8zM442 310h8v8h-8zM445 310h8v8h-8zM449 310h8v8h-8zM453 310h8v8h-8zM457 310h8v8h-8zM460 310h8v8h-8zM464 310h8v8h-8zM468 310h8v8h-8zM472 310h8v8h-8zM475 310h8v8h-8zM479 310h8v8h-8zM483 310h8v8h-8zM487 310h8v8h-8zM490 310h8v8h-8zM494 310h8v8h-8zM498 310h8v8h-8zM502 310h8v8h-8zM505 310h8v8h-8zM509 310h8v8h-8zM513 310h8v8h-8zM517 310h8v8h-8zM520 310h8v8h-8zM524 310h8v8h-8zM528 310h8v8h-8zM532 310h8v8h-8zM535 310h8v8h-8zM539 310h8v8h-8zM543 310h8v8h-8zM547 310h8v8h-8zM550 310h8v8h-8zM554 310h8v8h-8zM558 310h8v8h-8zM562 310h8v8h-8zM565 310h8v8h-8zM569 310h8v8h-8zM573 310h8v8h-8zM577 310h8v8h-8zM580 310h8v8h-8zM584 310h8v8h-8zM588 310h8v8h-8zM592 310h8v8h-8zM596 310h8v8h-8zM599 310h8v8h-8zM603 310h8v8h-8zM607 310h8v8h-8zM611 310h8v8h-8zM614 310h8v8h-8zM618 310h8v8h-8zM622 310h8v8h-8zM626 310h8v8h-8zM629 310h8v8h-8zM633 310h8v8h-8zM637 310h8v8h-8zM641 310h8v8h-8zM644 310h8v8h-8zM648 310h8v8h-8zM652 310h8v8h-8zM656 310h8v8h-8zM659 310h8v8h-8zM663 310h8v8h-8zM667 310h8v8h-8zM671 310h8v8h-8zM674 310h8v8h-8zM678 310h8v8h-8zM682 310h8v8h-8zM686 310h8v8h-8zM689 310h8v8h-8zM693 310h8v8h-8zM697 310h8v8h-8zM701 310h8v8h-8zM704 310h8v8h-8zM708 310h8v8h-8zM712 310h8v8h-8zM716 310h8v8h-8zM719 310h8v8h-8zM723 310h8v8h-8zM727 310h8v8h-8zM731 310h8v8h-8zM734 310h8v8h-8zM738 310h8v8h-8zM742 310h8v8h-8zM746 310h8v8h-8zM750 310h8v8h-8zM753 310h8v8h-8zM757 310h8v8h-8zM761 310h8v8h-8zM765 310h8v8h-8zM768 310h8v8h-8zM772 310h8v8h-8zM776 310h8v8h-8zM780 310h8v8h-8zM783 310h8v8h-8zM787 310h8v8h-8zM791 310h8v8h-8zM795 310h8v8h-8zM798 310h8v8h-8zM802 310h8v8h-8zM806 310h8v8h-8zM810 310h8v8h-8zM813 310h8v8h-8zM817 310h8v8h-8zM821 310h8v8h-8zM825 310h8v8h-8zM828 310h8v8h-8zM832 310h8v8h-8zM836 310h8v8h-8zM840 310h8v8h-8zM843 310h8v8h-8zM847 310h8v8h-8zM851 310h8v8h-8zM855 310h8v8h-8zM858 310h8v8h-8zM862 310h8v8h-8zM866 310h8v8h-8zM870 310h8v8h-8zM873 310h8v8h-8zM877 310h8v8h-8zM881 310h8v8h-8zM885 310h8v8h-8zM888 310h8v8h-8zM892 310h8v8h-8zM896 310h8v8h-8zM900 310h8v8h-8zM904 310h8v8h-8zM907 310h8v8h-8zM911 310h8v8h-8zM915 310h8v8h-8zM919 310h8v8h-8zM922 310h8v8h-8zM926 310h8v8h-8zM930 310h8v8h-8zM934 310h8v8h-8zM937 310h8v8h-8zM941 310h8v8h-8zM945 310h8v8h-8zM949 310h8v8h-8zM952 310h8v8h-8zM956 310h8v8h-8zM960 310h8v8h-8zM964 310h8v8h-8zM967 310h8v8h-8zM971 310h8v8h-8zM975 310h8v8h-8zM979 310h8v8h-8zM982 310h8v8h-8zM986 310h8v8h-8zM990 310h8v8h-8zM994 310h8v8h-8zM997 310h8v8h-8zM1001 310h8v8h-8zM1005 310h8v8h-8zM1009 310h8v8h-8zM1012 310h8v8h-8zM1016 310h8v8h-8zM1020 310h8v8h-8zM1024 310h8v8h-8zM1027 310h8v8h-8zM1031 310h8v8h-8zM1035 310h8v8h-8zM1039 310h8v8h-8zM1042 310h8v8h-8zM1046 310h8v8h-8zM1050 310h8v8h-8zM1054 310h8v8h-8zM1058 310h8v8h-8zM1066 160h8v8h-8zM1070 160h8v8h-8zM1074 160h8v8h-8zM1078 160h8v8h-8zM1081 160h8v8h-8zM1085 160h8v8h-8zM1089 160h8v8h-8zM1093 160h8v8h-8zM1097 160h8v8h-8zM1100 160h8v8h-8zM1104 160h8v8h-8zM1108 160h8v8h-8zM1112 160h8v8h-8zM1115 160h8v8h-8zM1119 160h8v8h-8zM1123 160h8v8h-8zM1127 160h8v8h-8zM1131 160h8v8h-8zM1134 160h8v8h-8zM1138 160h8v8h-8zM1142 160h8v8h-8zM1146 160h8v8h-8zM1149 160h8v8h-8zM1153 160h8v8h-8zM1157 160h8v8h-8zM1161 160h8v8h-8zM1164 160h8v8h-8zM1168 160h8v8h-8zM1172 160h8v8h-8zM1176 160h8v8h-8zM1180 160h8v8h-8zM1183 160h8v8h-8zM1187 160h8v8h-8zM1191 160h8v8h-8zM1195 160h8v8h-8zM1198 160h8v8h-8zM1202 160h8v8h-8zM1206 160h8v8h-8zM1210 160h8v8h-8zM1213 160h8v8h-8zM1217 160h8v8h-8zM1221 160h8v8h-8zM1225 160h8v8h-8zM1229 160h8v8h-8zM1232 160h8v8h-8zM1236 160h8v8h-8zM1240 160h8v8h-8zM1244 160h8v8h-8zM1247 160h8v8h-8zM1251 160h8v8h-8zM1255 160h8v8h-8zM1259 160h8v8h-8zM1262 160h8v8h-8zM1266 160h8v8h-8zM1270 160h8v8h-8zM1274 160h8v8h-8zM1278 160h8v8h-8zM1281 160h8v8h-8zM1285 160h8v8h-8zM1289 160h8v8h-8zM1293 160h8v8h-8zM1296 160h8v8h-8zM1300 160h8v8h-8zM1304 160h8v8h-8zM1308 160h8v8h-8zM1312 160h8v8h-8zM1315 160h8v8h-8zM1319 160h8v8h-8zM1323 160h8v8h-8zM1327 160h8v8h-8zM1330 160h8v8h-8zM1334 160h8v8h-8zM1338 160h8v8h-8zM1342 160h8v8h-8zM1345 160h8v8h-8zM1349 160h8v8h-8zM1353 160h8v8h-8z"/>
<rect class="ax" x="74.5" y="57.5" width="1395" height="282"/>
<path class="bl" d="M1404 70h46"/>
<path class="bm" d="M1426 66h2v1h2v6h-2v1h-2v-1h-2v-6h2z"/>
<path class="rl" d="M1404 89h46"/>
<path class="rm" d="M1423 85h8v8h-8z"/>
</svg></body></html>
